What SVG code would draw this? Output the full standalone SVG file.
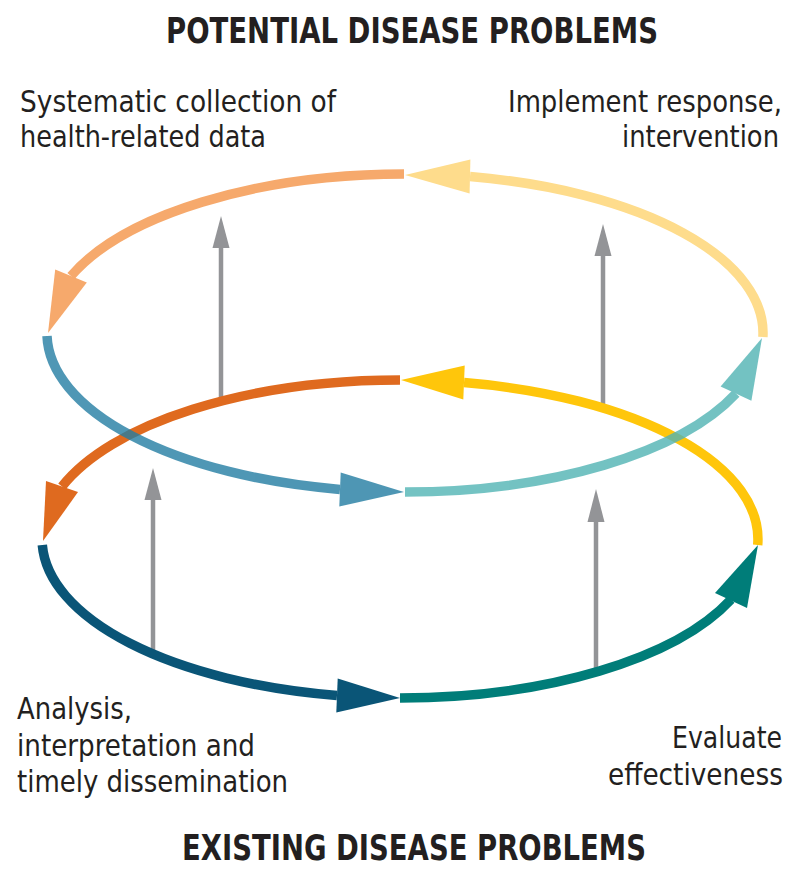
<svg xmlns="http://www.w3.org/2000/svg" width="800" height="877" viewBox="0 0 800 877">
<style>
.t{font-family:"Liberation Sans Narrow","DejaVu Sans Condensed","Liberation Sans",sans-serif;font-size:30px;fill:#231F20}
.h{font-family:"Liberation Sans Narrow","DejaVu Sans Condensed","Liberation Sans",sans-serif;font-size:35px;font-weight:bold;fill:#231F20}
.arc{fill:none;stroke-width:9.5;stroke-linecap:butt}
.g{stroke:#939497;stroke-width:4.5;fill:none}
.gh{fill:#939497}
</style>
<rect width="800" height="877" fill="#ffffff"/>
<g id="title-potential"><text class="h" x="166" y="43" textLength="492" lengthAdjust="spacingAndGlyphs">POTENTIAL DISEASE PROBLEMS</text></g>
<g id="title-existing"><text class="h" x="182" y="860" textLength="464" lengthAdjust="spacingAndGlyphs">EXISTING DISEASE PROBLEMS</text></g>
<g id="label-collection">
<text class="t" x="20" y="112" textLength="316" lengthAdjust="spacingAndGlyphs">Systematic collection of</text>
<text class="t" x="20" y="147" textLength="246" lengthAdjust="spacingAndGlyphs">health-related data</text>
</g>
<g id="label-implement">
<text class="t" x="508" y="112" textLength="274" lengthAdjust="spacingAndGlyphs">Implement response,</text>
<text class="t" x="622" y="147" textLength="157" lengthAdjust="spacingAndGlyphs">intervention</text>
</g>
<g id="label-analysis">
<text class="t" x="17" y="719" textLength="115" lengthAdjust="spacingAndGlyphs">Analysis,</text>
<text class="t" x="17" y="756" textLength="238" lengthAdjust="spacingAndGlyphs">interpretation and</text>
<text class="t" x="17" y="792" textLength="271" lengthAdjust="spacingAndGlyphs">timely dissemination</text>
</g>
<g id="label-evaluate">
<text class="t" x="672" y="748" textLength="110" lengthAdjust="spacingAndGlyphs">Evaluate</text>
<text class="t" x="608" y="785" textLength="175" lengthAdjust="spacingAndGlyphs">effectiveness</text>
</g>
<g id="connectors">
<g id="gray-arrows">
<line class="g" x1="221" y1="400" x2="221" y2="244"/><polygon class="gh" points="221,216 212.5,248 229.5,248"/>
<line class="g" x1="603" y1="408" x2="603" y2="252"/><polygon class="gh" points="603,224 594.5,256 611.5,256"/>
<line class="g" x1="153" y1="655" x2="153" y2="496"/><polygon class="gh" points="153,468 144.5,500 161.5,500"/>
<line class="g" x1="596" y1="674" x2="596" y2="518"/><polygon class="gh" points="596,489 587.5,522 604.5,522"/>
</g>
<g id="upper-back">
<path class="arc" stroke="#F6A96C" d="M 404 174 A 358 159 0 0 0 71 276"/>
<polygon fill="#F6A96C" points="48,333 86.8,282.4 55.2,269.6"/>
<path class="arc" stroke="#FEDC8C" d="M 762.9 337 A 358 159 0 0 0 470 176.6"/>
<polygon fill="#FEDC8C" points="405,175 470.4,159.6 469.6,193.6"/>
</g>
<g id="lower">
<path class="arc" stroke="#DF6A1F" d="M 400 380 A 358 159 0 0 0 62 486.5"/>
<polygon fill="#DF6A1F" points="43,541 78,492.1 46,480.9"/>
<path class="arc" stroke="#FFC60B" d="M 757.7 545 A 358 159 0 0 0 464 382.6"/>
<polygon fill="#FFC60B" points="401,380 464.7,365.6 463.3,399.6"/>
<path class="arc" stroke="#0A5577" d="M 42.3 545 A 358 159 0 0 0 337 695.5"/>
<polygon fill="#0A5577" points="400,698 337.7,678.5 336.3,712.5"/>
<path class="arc" stroke="#007D79" d="M 400 698 A 358 159 0 0 0 731 599.5"/>
<polygon fill="#007D79" points="758,545 747,608 715,593"/>
</g>
<g id="upper-front">
<g opacity="0.8">
<path class="arc" stroke="#237DA2" d="M 47 336 A 358 159 0 0 0 340 489.4"/>
<polygon fill="#237DA2" points="404,492 340.7,472.4 339.3,506.4"/>
</g>
<g opacity="0.8">
<path class="arc" stroke="#51B4B4" d="M 405 492 A 358 159 0 0 0 736 393.6"/>
<polygon fill="#51B4B4" points="762,338 751.4,400.8 720.6,386.4"/>
</g>
</g>
</g>
</svg>
